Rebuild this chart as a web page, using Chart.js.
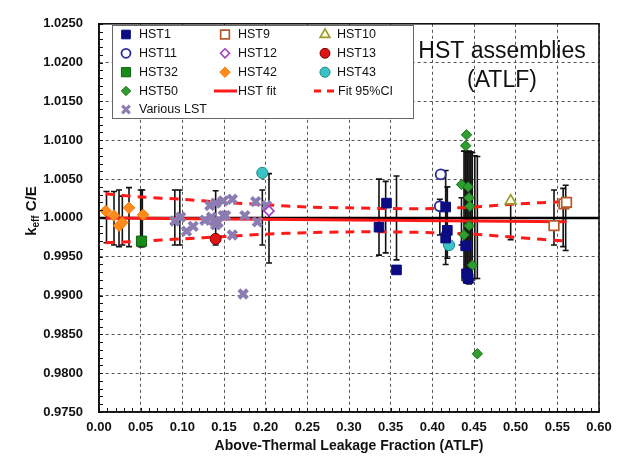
<!DOCTYPE html>
<html>
<head>
<meta charset="utf-8">
<script src="https://cdn.jsdelivr.net/npm/chart.js@4.4.1/dist/chart.umd.min.js"></script>
<style>
  html, body { margin: 0; padding: 0; background: #fff; }
  #wrap { width: 621px; height: 460px; position: relative; }
</style>
</head>
<body>
<div id="wrap"><canvas id="chart"></canvas></div>
<script>
// tick labels
const xTickValues = [0, 0.05, 0.10, 0.15, 0.20, 0.25, 0.30, 0.35, 0.40, 0.45, 0.50, 0.55, 0.60];
const yTickValues = [0.975, 0.980, 0.985, 0.990, 0.995, 1.000, 1.005, 1.010, 1.015, 1.020, 1.025];

// series
const hst1X = [0.336, 0.345, 0.357, 0.416, 0.418, 0.416, 0.440, 0.441, 0.443];
const hst1Y = [0.9988, 1.0019, 0.9933, 1.0014, 0.9984, 0.9974, 0.9964, 0.9928, 0.9922];
const hst9X = [0.546, 0.558, 0.561];
const hst9Y = [0.9990, 1.0018, 1.0020];
const hst10X = [0.494];
const hst10Y = [1.0022];
const hst11X = [0.410, 0.409];
const hst11Y = [1.0056, 1.0015];
const hst12X = [0.204];
const hst12Y = [1.0009];
const hst13X = [0.140];
const hst13Y = [0.9973];
const hst32X = [0.051];
const hst32Y = [0.9970];
const hst42X = [0.008, 0.018, 0.024, 0.028, 0.036, 0.053];
const hst42Y = [1.0009, 1.0003, 0.9990, 0.9994, 1.0013, 1.0004];
const hst43X = [0.196, 0.420];
const hst43Y = [1.0058, 0.9965];
const hst50X = [0.441, 0.440, 0.435, 0.443, 0.444, 0.445, 0.444, 0.438, 0.448, 0.454];
const hst50Y = [1.0107, 1.0093, 1.0043, 1.0040, 1.0026, 1.0015, 0.9990, 0.9978, 0.9939, 0.9825];
const lstX = [0.091, 0.098, 0.105, 0.113, 0.127, 0.133, 0.135, 0.138, 0.140, 0.140, 0.143, 0.149, 0.149, 0.152, 0.160, 0.160, 0.173, 0.175, 0.188, 0.190, 0.201];
const lstY = [0.9996, 1.0001, 0.9983, 0.9989, 0.9997, 1.0016, 1.0001, 0.9996, 1.0019, 0.9991, 0.9994, 1.0022, 1.0003, 1.0003, 1.0024, 0.9978, 0.9902, 1.0003, 1.0021, 0.9995, 1.0016];

// experimental uncertainty bars
const errX  = [0.009, 0.018, 0.024, 0.028, 0.036, 0.050, 0.052, 0.091, 0.097, 0.140, 0.196, 0.204, 0.336, 0.344, 0.357, 0.409, 0.416, 0.418, 0.435, 0.438, 0.440, 0.442, 0.444, 0.446, 0.448, 0.451, 0.454, 0.494, 0.546, 0.557, 0.560];
const errLo = [0.9968, 0.9965, 0.9963, 0.9965, 0.9963, 0.9963, 0.9963, 0.9965, 0.9965, 0.9965, 0.9965, 0.9942, 0.9952, 0.9955, 0.9946, 0.9978, 0.9940, 0.9948, 0.9965, 0.9920, 0.9918, 0.9916, 0.9915, 0.9917, 0.9920, 0.9922, 0.9922, 0.9972, 0.9965, 0.9963, 0.9958];
const errHi = [1.0034, 1.0034, 1.0036, 1.0028, 1.0039, 1.0036, 1.0036, 1.0036, 1.0036, 1.0035, 1.0036, 1.0057, 1.0050, 1.0047, 1.0054, 1.0024, 1.0061, 1.0040, 1.0026, 1.0086, 1.0086, 1.0085, 1.0086, 1.0085, 1.0084, 1.0080, 1.0079, 1.0018, 1.0036, 1.0038, 1.0042];

// fit and confidence band
const fitX = [0.008, 0.561];
const fitY = [1.0000, 0.9995];
const ciX  = [0.008, 0.05, 0.10, 0.15, 0.20, 0.25, 0.30, 0.35, 0.40, 0.45, 0.50, 0.561];
const ciHi = [1.0031, 1.0027, 1.0024, 1.0020, 1.0017, 1.0014, 1.0013, 1.0012, 1.0012, 1.0014, 1.0018, 1.0021];
const ciLo = [0.9968, 0.9970, 0.9973, 0.9976, 0.9979, 0.9981, 0.9982, 0.9982, 0.9981, 0.9979, 0.9975, 0.9970];
const refX = [0, 0.6];
const refY = [1.0, 1.0];

const FONT = '"Liberation Sans", Arial, sans-serif';

function pts(xs, ys) {
    return xs.map((x, i) => ({ x: x, y: ys[i] }));
}

// each bar is two points followed by a gap
function errPoints() {
    const out = [];
    errX.forEach((x, i) => {
        out.push({ x: x, y: errLo[i] }, { x: x, y: errHi[i] }, { x: x, y: null });
    });
    return out;
}

function marker(label, xs, ys, style, radius, bg, border, bw) {
    return {
        type: 'scatter', label: label, data: pts(xs, ys),
        pointStyle: style, pointRadius: radius, pointHoverRadius: radius,
        backgroundColor: bg, borderColor: border, borderWidth: bw, order: 1
    };
}

const datasets = [
    marker('HST1', hst1X, hst1Y, 'rect', 6.8, '#0b0b82', '#0b0b82', 1),
    marker('HST9', hst9X, hst9Y, 'rect', 6.8, '#ffffff', '#b8582a', 1.7),
    marker('HST10', hst10X, hst10Y, 'triangle', 6.2, '#fffbe0', '#9a9a32', 1.7),
    marker('HST11', hst11X, hst11Y, 'circle', 5, '#ffffff', '#2a2aa0', 1.8),
    marker('HST12', hst12X, hst12Y, 'rectRot', 5, '#ffffff', '#a040c0', 1.6),
    marker('HST13', hst13X, hst13Y, 'circle', 5.5, '#e01414', '#7a0000', 1),
    marker('HST32', hst32X, hst32Y, 'rect', 7.2, '#1a8a1a', '#0f600f', 1),
    marker('HST42', hst42X, hst42Y, 'rectRot', 5.8, '#ff8c1a', '#f07c10', 1),
    marker('HST43', hst43X, hst43Y, 'circle', 5.6, '#3cc3c3', '#1f8888', 1),
    marker('HST50', hst50X, hst50Y, 'rectRot', 5.2, '#2e9e2e', '#1a701a', 1),
    {
        type: 'line', label: 'HST fit', data: pts(fitX, fitY),
        borderColor: '#ff1a1a', borderWidth: 3, pointRadius: 0, order: 2
    },
    {
        type: 'line', label: 'Fit 95%CI', data: pts(ciX, ciHi),
        borderColor: '#ff1a1a', borderWidth: 3, borderDash: [9, 7], pointRadius: 0, tension: 0.3, order: 2
    },
    {
        type: 'line', label: 'Fit 95%CI lo', data: pts(ciX, ciLo),
        borderColor: '#ff1a1a', borderWidth: 3, borderDash: [9, 7], pointRadius: 0, tension: 0.3, order: 2
    },
    {
        type: 'scatter', label: 'Various LST', data: pts(lstX, lstY),
        pointStyle: 'crossRot', pointRadius: 6, borderColor: '#8c7cb2', backgroundColor: '#8c7cb2',
        borderWidth: 4, order: 1
    },
    {
        type: 'line', label: 'ref', data: pts(refX, refY),
        borderColor: '#000', borderWidth: 2.5, pointRadius: 0, order: 3
    },
    {
        type: 'line', label: 'err', data: errPoints(),
        borderColor: '#111', borderWidth: 1.6, pointStyle: 'line', pointRadius: 3,
        pointBorderColor: '#111', pointBorderWidth: 1.6, spanGaps: false, order: 4
    }
];

// legend inside the plot, three columns
const legendRows = [
    ['HST1', 'HST9', 'HST10'],
    ['HST11', 'HST12', 'HST13'],
    ['HST32', 'HST42', 'HST43'],
    ['HST50', 'HST fit', 'Fit 95%CI'],
    ['Various LST']
];

const boxPlugin = {
    id: 'boxPlugin',
    afterDraw(chart) {
        const ctx = chart.ctx;
        const a = chart.chartArea;
        const xs = chart.scales.x, ys = chart.scales.y;
        ctx.save();

        // minor ticks
        ctx.strokeStyle = '#111';
        ctx.lineWidth = 1;
        ctx.beginPath();
        for (let i = 0; i <= 60; i++) {
            const px = Math.round(xs.getPixelForValue(i / 100)) + 0.5;
            ctx.moveTo(px, a.bottom);
            ctx.lineTo(px, a.bottom - 4);
        }
        for (let i = 0; i <= 50; i++) {
            const py = Math.round(ys.getPixelForValue(0.975 + i / 1000)) + 0.5;
            ctx.moveTo(a.left, py);
            ctx.lineTo(a.left + 4, py);
        }
        ctx.stroke();

        // frame
        ctx.strokeStyle = '#111';
        ctx.lineWidth = 1.6;
        ctx.strokeRect(a.left, a.top, a.right - a.left, a.bottom - a.top);

        // legend box
        const lx = 112, ly = 25, lw = 301, lh = 93;
        ctx.fillStyle = '#fff';
        ctx.fillRect(lx, ly, lw, lh);
        ctx.strokeStyle = '#666';
        ctx.lineWidth = 1;
        ctx.strokeRect(lx + 0.5, ly + 0.5, lw, lh);

        const colMark = [126, 225, 325];
        const colText = [139, 238, 337];
        const rowY = [34.5, 53.3, 72.2, 91, 109.5];
        ctx.font = '12.5px ' + FONT;
        ctx.textBaseline = 'middle';
        ctx.textAlign = 'left';
        legendRows.forEach((row, r) => {
            row.forEach((name, c) => {
                const ds = chart.data.datasets.find(d => d.label === name);
                const mx = colMark[c], my = rowY[r];
                let tx = colText[c];
                if (ds.type === 'line') {
                    ctx.save();
                    ctx.strokeStyle = ds.borderColor;
                    ctx.lineWidth = 3;
                    if (ds.borderDash) ctx.setLineDash([7, 6]);
                    ctx.beginPath();
                    ctx.moveTo(mx - 11, my);
                    ctx.lineTo(mx + 12, my);
                    ctx.stroke();
                    ctx.restore();
                    tx = mx + 13;
                } else {
                    ctx.save();
                    ctx.fillStyle = ds.backgroundColor;
                    ctx.strokeStyle = ds.borderColor;
                    ctx.lineWidth = ds.pointStyle === 'crossRot' ? 3 : ds.borderWidth;
                    Chart.helpers.drawPoint(ctx, {
                        pointStyle: ds.pointStyle, radius: ds.pointRadius * 0.9,
                        rotation: 0, borderWidth: ds.borderWidth
                    }, mx, my);
                    ctx.restore();
                }
                ctx.fillStyle = '#111';
                ctx.fillText(name, tx, my + 0.5);
            });
        });

        // plot caption
        ctx.fillStyle = '#111';
        ctx.textAlign = 'center';
        ctx.textBaseline = 'alphabetic';
        ctx.font = '23px ' + FONT;
        ctx.fillText('HST assemblies', 502, 58);
        ctx.fillText('(ATLF)', 502, 86.5);

        // y axis title with subscript
        ctx.translate(31, 211);
        ctx.rotate(-Math.PI / 2);
        const big = 'bold 15px ' + FONT, small = 'bold 10px ' + FONT;
        ctx.font = big;
        const wk = ctx.measureText('k').width;
        const wr = ctx.measureText(' C/E').width;
        ctx.font = small;
        const we = ctx.measureText('eff').width;
        let x0 = -(wk + we + wr) / 2;
        ctx.textAlign = 'left';
        ctx.textBaseline = 'alphabetic';
        ctx.font = big;
        ctx.fillText('k', x0, 5);
        ctx.font = small;
        ctx.fillText('eff', x0 + wk, 8);
        ctx.font = big;
        ctx.fillText(' C/E', x0 + wk + we, 5);
        ctx.restore();
    }
};

new Chart(document.getElementById('chart'), {
    type: 'scatter',
    data: { datasets: datasets },
    options: {
        responsive: true,
        maintainAspectRatio: false,
        animation: false,
        layout: { padding: { left: 0, right: 22, top: 12, bottom: 0 } },
        plugins: {
            legend: { display: false },
            tooltip: { enabled: false }
        },
        scales: {
            x: {
                type: 'linear', min: 0, max: 0.6,
                afterBuildTicks: s => { s.ticks = xTickValues.map(v => ({ value: v })); },
                afterFit: s => { s.height = 48; },
                ticks: {
                    autoSkip: false, maxRotation: 0, padding: 8, color: '#111',
                    font: { family: FONT, size: 13, weight: 'bold' },
                    callback: v => Number(v).toFixed(2)
                },
                grid: { color: '#555', lineWidth: 1, drawTicks: false },
                border: { display: true, color: '#111', width: 1.6, dash: [3, 3] },
                title: {
                    display: true, text: 'Above-Thermal Leakage Fraction (ATLF)', color: '#111',
                    font: { family: FONT, size: 14, weight: 'bold' },
                    padding: { top: 0, bottom: 5 }
                }
            },
            y: {
                type: 'linear', min: 0.975, max: 1.025,
                afterBuildTicks: s => { s.ticks = yTickValues.map(v => ({ value: v })); },
                afterFit: s => { s.width = 99; },
                ticks: {
                    autoSkip: false, padding: 16, color: '#111',
                    font: { family: FONT, size: 13, weight: 'bold' },
                    callback: v => Number(v).toFixed(4)
                },
                grid: { color: '#555', lineWidth: 1, drawTicks: false },
                border: { display: true, color: '#111', width: 1.6, dash: [3, 3] }
            }
        }
    },
    plugins: [boxPlugin]
});
</script>
</body>
</html>
